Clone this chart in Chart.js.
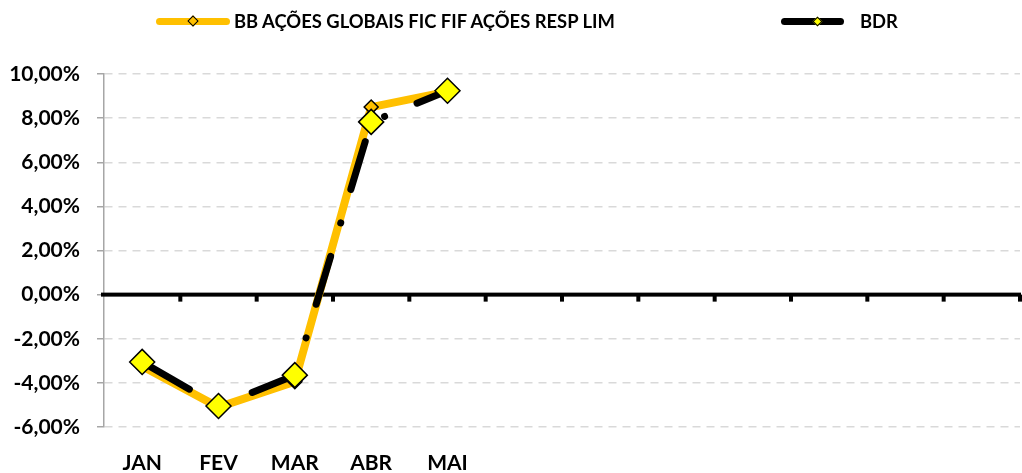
<!DOCTYPE html>
<html>
<head>
<meta charset="utf-8">
<script src="https://cdn.jsdelivr.net/npm/chart.js@4/dist/chart.umd.min.js"></script>
<style>
  html, body { margin: 0; padding: 0; background: #fff; }
  #wrap { position: relative; width: 1022px; height: 473px; overflow: hidden; }
  #wrap canvas { position: absolute; left: 0; top: 0; }
  .leg-line { position: absolute; height: 7px; border-radius: 4px; }
  .leg-mark { position: absolute; transform: rotate(45deg); border: 1.5px solid #000; box-sizing: border-box; }
  .leg-text { position: absolute; font: bold 18.4px Lato, sans-serif; color: #000; line-height: 22px; white-space: nowrap; }
</style>
</head>
<body>
<div id="wrap">
  <canvas id="chart" width="1022" height="473"></canvas>
  <div class="leg-line" style="left:156px;top:18px;width:74px;background:#FFC000;"></div>
  <div class="leg-mark" style="left:189px;top:17px;width:8px;height:8px;background:#FFC000;"></div>
  <div class="leg-text" style="left:234px;top:10px;">BB AÇÕES GLOBAIS FIC FIF AÇÕES RESP LIM</div>
  <div class="leg-line" style="left:781px;top:18px;width:63px;background:#000;"></div>
  <div class="leg-mark" style="left:814px;top:18px;width:7px;height:7px;background:#FFFF00;border-width:0.5px;"></div>
  <div class="leg-text" style="left:860px;top:10px;">BDR</div>
</div>
<script>
const months = ['JAN', 'FEV', 'MAR', 'ABR', 'MAI', '', '', '', '', '', '', ''];
const bbValues = [-3.25, -5.1, -3.95, 8.5, 9.2];
const bdrValues = [-3.05, -5.05, -3.65, 7.83, 9.24];
const yTicks = [-6, -4, -2, 0, 2, 4, 6, 8, 10];

// black 0% line with small ticks between categories (drawn under the series)
const zeroAxis = {
  id: 'zeroAxis',
  beforeDatasetsDraw(chart) {
    const { ctx, chartArea, scales: { x, y } } = chart;
    const y0 = y.getPixelForValue(0);
    ctx.save();
    ctx.fillStyle = '#000';
    ctx.fillRect(chartArea.left - 3, y0 - 2, chartArea.right - chartArea.left + 4, 4);
    for (let i = 1; i <= months.length; i++) {
      const px = i < months.length
        ? (x.getPixelForValue(i - 1) + x.getPixelForValue(i)) / 2
        : chartArea.right;
      ctx.fillRect(px - 2, y0, 4, 7);
    }
    ctx.restore();
  }
};

new Chart(document.getElementById('chart'), {
  type: 'line',
  data: {
    labels: months,
    datasets: [{
      label: 'BDR',
      data: bdrValues,
      order: 0,
      borderColor: '#000',
      borderWidth: 7,
      borderCapStyle: 'round',
      borderJoinStyle: 'round',
      borderDash: [50, 35, 0.01, 35],
      borderDashOffset: 115.5,
      tension: 0,
      pointStyle: 'rectRot',
      pointRadius: 12.5,
      pointBackgroundColor: '#FFFF00',
      pointBorderColor: '#000',
      pointBorderWidth: 1.5
    }, {
      label: 'BB AÇÕES GLOBAIS FIC FIF AÇÕES RESP LIM',
      data: bbValues,
      order: 1,
      borderColor: '#FFC000',
      borderWidth: 8,
      borderCapStyle: 'round',
      borderJoinStyle: 'round',
      tension: 0,
      pointStyle: 'rectRot',
      pointRadius: 7,
      pointBackgroundColor: '#FFC000',
      pointBorderColor: '#000',
      pointBorderWidth: 1.5
    }]
  },
  options: {
    responsive: false,
    animation: false,
    layout: { autoPadding: false, padding: { top: 74, right: 2, left: 0, bottom: 0 } },
    plugins: { legend: { display: false }, tooltip: { enabled: false } },
    scales: {
      x: {
        offset: true,
        grid: { display: false, tickLength: 24 },
        border: { display: false },
        ticks: {
          autoSkip: false, maxRotation: 0, padding: 0,
          color: '#000', font: { family: 'Lato', weight: 'bold', size: 21 }
        },
        afterFit(s) { s.height = 46; }
      },
      y: {
        min: -6, max: 10,
        afterBuildTicks(s) { s.ticks = yTicks.map(v => ({ value: v })); },
        grid: {
          color: c => c.tick && c.tick.value === 0 ? 'rgba(0,0,0,0)' : '#d9d9d9',
          lineWidth: 1.5,
          tickColor: '#a6a6a6',
          tickLength: 7
        },
        border: { display: true, color: '#a6a6a6', width: 1.5, dash: [8, 6] },
        ticks: {
          padding: 17,
          color: '#000',
          font: { family: 'Lato', weight: 'bold', size: 21 },
          callback: v => v.toFixed(2).replace('.', ',') + '%'
        },
        afterFit(s) { s.width = 104; }
      }
    }
  },
  plugins: [zeroAxis]
});
</script>
</body>
</html>
